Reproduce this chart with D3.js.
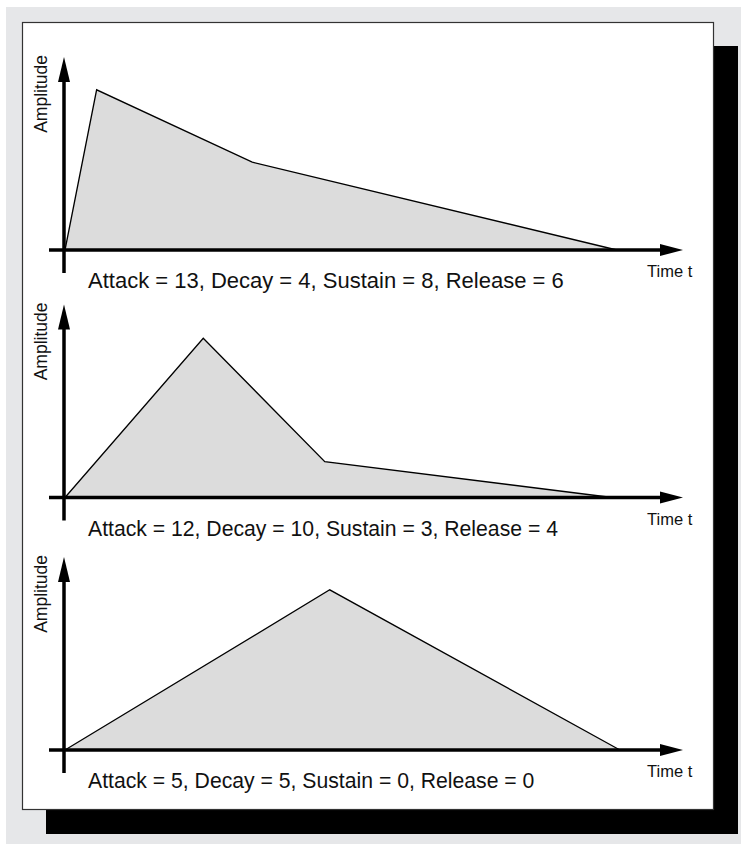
<!DOCTYPE html>
<html>
<head>
<meta charset="utf-8">
<script src="https://cdn.jsdelivr.net/npm/d3@7"></script>
<style>
  body { margin: 0; background: #fff; }
  svg text { font-family: "Liberation Sans", Arial, Helvetica, sans-serif; fill: #111; }
</style>
</head>
<body>
<div id="chart"></div>
<script>
	// envelope data: time points and amplitudes for each of the three panels
	var captions = [
		'Attack = 13, Decay = 4, Sustain = 8, Release = 6',
		'Attack = 12, Decay = 10, Sustain = 3, Release = 4',
		'Attack = 5, Decay = 5, Sustain = 0, Release = 0'
	];
	var envTimes = [
		[0, 5.1, 30.2, 89.0],
		[0, 22.3, 41.9, 88.2],
		[0, 42.7, 89.5]
	];
	var envAmps = [
		[0, 83, 45.5, 0],
		[0, 82.5, 18.6, 0],
		[0, 83, 0]
	];
	var axisLabelY = 'Amplitude',
		axisLabelX = 'Time t';

	var width = 741,
		height = 844;

	var svg = d3.select('#chart').append('svg')
		.attr('width', width)
		.attr('height', height);

	// background, shadow, panel
	svg.append('rect').attr('x', 0).attr('y', 0).attr('width', width).attr('height', height).attr('fill', '#fff');
	svg.append('rect').attr('x', 6).attr('y', 7).attr('width', 735).attr('height', 837).attr('fill', '#e6e7e9');
	svg.append('rect').attr('x', 46).attr('y', 46).attr('width', 692).attr('height', 788).attr('fill', '#000');
	svg.append('rect').attr('x', 22.5).attr('y', 22.5).attr('width', 691).attr('height', 787)
		.attr('fill', '#fff').attr('stroke', '#333').attr('stroke-width', 1.2);

	var baselines = [250, 497.5, 750],
		captionSizes = [22, 21.2, 21.2],
		plotHeight = 193;

	var x = d3.scaleLinear().domain([0, 100]).range([65, 685]);

	captions.forEach(function(caption, i){
		var base = baselines[i];
		var y = d3.scaleLinear().domain([0, 100]).range([base, base - plotHeight]);
		var pts = envTimes[i].map(function(t, j){ return [t, envAmps[i][j]]; });

		var g = svg.append('g');

		g.append('path')
			.datum(pts)
			.attr('fill', '#dcdcdc')
			.attr('d', d3.area()
				.x(function(d){ return x(d[0]); })
				.y0(y(0))
				.y1(function(d){ return y(d[1]); }));

		g.append('path')
			.datum(pts)
			.attr('fill', 'none')
			.attr('stroke', '#000')
			.attr('stroke-width', 1.3)
			.attr('stroke-linejoin', 'miter')
			.attr('d', d3.line()
				.x(function(d){ return x(d[0]); })
				.y(function(d){ return y(d[1]); }));

		// axes
		var ax = x(0) - 1;
		g.append('line')
			.attr('x1', 49).attr('x2', x(100) - 20)
			.attr('y1', y(0)).attr('y2', y(0))
			.attr('stroke', '#000').attr('stroke-width', 3.5);
		g.append('path')
			.attr('d', 'M' + (x(100) - 2) + ',' + y(0) + 'L' + (x(100) - 25) + ',' + (y(0) - 6) + 'L' + (x(100) - 25) + ',' + (y(0) + 6) + 'Z')
			.attr('fill', '#000');

		g.append('line')
			.attr('x1', ax).attr('x2', ax)
			.attr('y1', y(0) + 23).attr('y2', y(100) + 20)
			.attr('stroke', '#000').attr('stroke-width', 3.5);
		g.append('path')
			.attr('d', 'M' + ax + ',' + y(100) + 'L' + (ax - 6) + ',' + (y(100) + 25) + 'L' + (ax + 6) + ',' + (y(100) + 25) + 'Z')
			.attr('fill', '#000');

		// labels
		g.append('text')
			.attr('transform', 'translate(47,' + (y(100) - 2) + ') rotate(-90)')
			.attr('text-anchor', 'end')
			.style('font-size', '17.5px')
			.text(axisLabelY);

		g.append('text')
			.attr('x', 647).attr('y', y(0) + 27)
			.style('font-size', '16.5px')
			.text(axisLabelX);

		g.append('text')
			.attr('x', 88).attr('y', y(0) + 38)
			.style('font-size', captionSizes[i] + 'px')
			.text(caption);
	});
</script>
</body>
</html>
